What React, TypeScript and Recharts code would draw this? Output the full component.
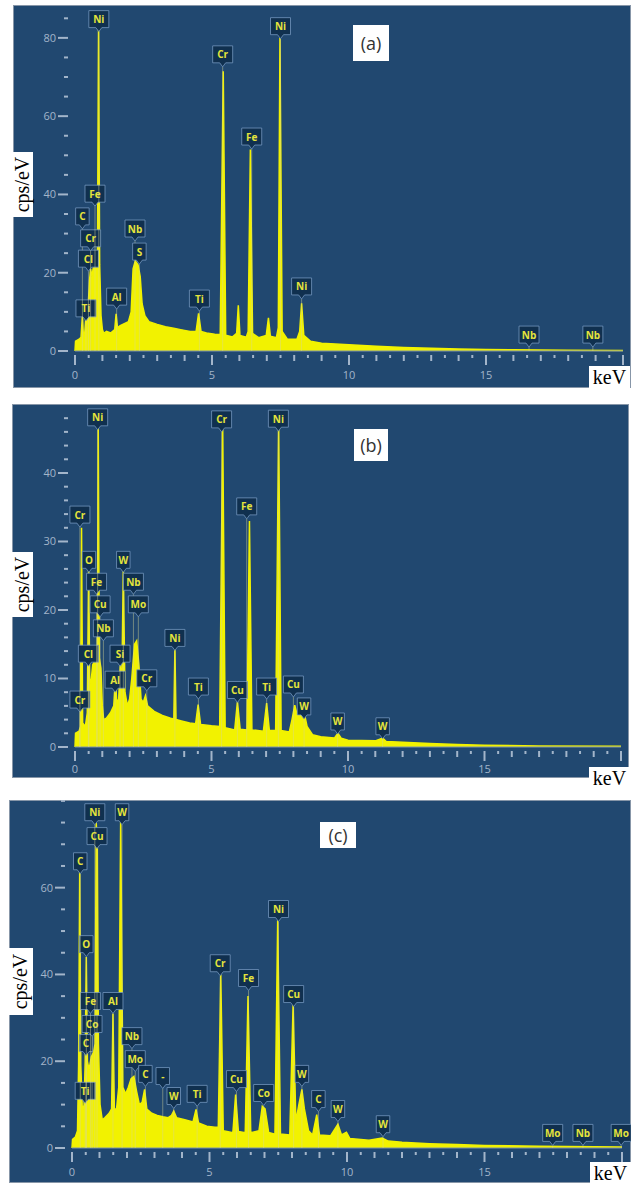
import React from 'react';
import { ComposedChart, Area, Scatter, XAxis, YAxis } from 'recharts';

type Pt = [number, number];
type Mark = [string, number, number]; // element, keV, cps at the pointer tip

// spectrum (a): [keV, cps/eV]
const spectrumA: Pt[] = [
  [0, 0], [0.02, 2.5], [0.15, 3], [0.22, 3.5], [0.27, 9], [0.31, 3.5], [0.36, 5], [0.4, 9],
  [0.44, 6], [0.5, 14], [0.53, 18], [0.57, 21], [0.62, 19], [0.66, 21], [0.7, 22], [0.76, 21],
  [0.82, 24], [0.86, 84], [0.9, 22], [0.95, 9], [1.0, 5.5], [1.05, 4.5], [1.15, 5], [1.3, 4.6],
  [1.45, 5.5], [1.5, 9.5], [1.55, 6], [1.65, 6.5], [1.8, 7], [1.95, 7.5], [2.05, 10], [2.12, 21],
  [2.2, 23], [2.3, 22], [2.38, 19], [2.45, 12], [2.55, 9], [2.7, 7.5], [3.0, 6.8], [3.3, 6.2],
  [3.6, 5.8], [3.9, 5.4], [4.2, 5], [4.42, 5], [4.51, 9.6], [4.6, 5], [4.8, 4.6], [5.1, 4.3],
  [5.3, 4.2], [5.41, 71.5], [5.5, 4], [5.75, 3.6], [5.9, 4.5], [5.96, 11.7], [6.02, 4], [6.25, 3.5],
  [6.32, 5], [6.4, 51.5], [6.48, 4.5], [6.7, 3.4], [6.98, 4], [7.06, 8.5], [7.13, 3.8], [7.35, 3.4],
  [7.42, 6], [7.48, 80], [7.56, 5], [7.75, 3], [8.1, 3], [8.2, 5], [8.27, 12.2], [8.35, 4],
  [8.6, 2.5], [9.0, 2], [10, 1.6], [11, 1.2], [12, 0.9], [13, 0.7], [14, 0.5], [15, 0.4],
  [16, 0.3], [18, 0.2], [20, 0.15],
];

const markersA: Mark[] = [
  ['Ti', 0.4, 7.7], ['C', 0.27, 31.2], ['Cl', 0.49, 20.4], ['Cr', 0.57, 25.6], ['Fe', 0.73, 37],
  ['Ni', 0.87, 81.6], ['Al', 1.52, 10.7], ['Nb', 2.19, 28.1], ['S', 2.35, 22.2], ['Ti', 4.54, 10.2],
  ['Cr', 5.39, 72.6], ['Fe', 6.45, 51.6], ['Ni', 7.5, 79.8], ['Ni', 8.27, 13.3], ['Nb', 16.57, 1.0],
  ['Nb', 18.9, 1.0],
];

// spectrum (b)
const spectrumB: Pt[] = [
  [0, 0], [0.02, 2], [0.15, 2.3], [0.2, 3], [0.24, 32], [0.28, 3.5], [0.38, 3], [0.45, 5],
  [0.5, 26], [0.54, 9], [0.6, 10], [0.65, 12], [0.72, 12.5], [0.78, 13], [0.82, 14], [0.85, 47.5],
  [0.89, 13], [0.95, 11.5], [1.0, 6], [1.05, 4], [1.15, 4.2], [1.3, 5], [1.42, 6], [1.48, 10],
  [1.53, 6.5], [1.6, 7], [1.66, 12], [1.71, 8], [1.77, 26], [1.83, 8], [1.92, 6], [2.0, 7],
  [2.08, 10], [2.18, 15], [2.26, 15.5], [2.34, 12], [2.42, 7], [2.5, 6.5], [2.58, 7.5], [2.66, 6],
  [2.9, 5.2], [3.2, 4.6], [3.5, 4.2], [3.62, 4.1], [3.66, 14.5], [3.7, 4], [3.9, 3.8], [4.2, 3.5],
  [4.42, 3.4], [4.51, 6.2], [4.6, 3.3], [5.0, 3.1], [5.3, 3.0], [5.41, 47], [5.5, 2.8], [5.85, 2.5],
  [5.95, 6.6], [6.05, 2.6], [6.3, 2.5], [6.39, 33], [6.48, 2.5], [6.9, 2.3], [7.02, 6.4], [7.12, 2.4],
  [7.35, 2.4], [7.46, 47.5], [7.55, 2.4], [7.85, 2.2], [7.95, 4], [8.05, 6.1], [8.15, 4.5], [8.28, 5.5],
  [8.38, 5.3], [8.5, 3], [8.7, 1.8], [9.0, 1.5], [9.5, 1.3], [9.63, 2], [9.75, 1.3], [10, 1],
  [11, 0.9], [11.27, 1.3], [11.4, 0.8], [12, 0.7], [13, 0.5], [14, 0.35], [15, 0.25], [17, 0.15],
  [20, 0.1],
];

const markersB: Mark[] = [
  ['Cr', 0.18, 5.1], ['Cr', 0.18, 32.1], ['O', 0.51, 25.5], ['Cl', 0.49, 11.8], ['Fe', 0.79, 22.3],
  ['Cu', 0.92, 19], ['Nb', 1.04, 15.5], ['Ni', 0.83, 46.3], ['Al', 1.47, 8], ['Si', 1.65, 11.8],
  ['W', 1.77, 25.5], ['Nb', 2.14, 22.3], ['Mo', 2.32, 19], ['Cr', 2.63, 8.2], ['Ni', 3.66, 14.1],
  ['Ti', 4.52, 7], ['Cr', 5.37, 46], ['Cu', 5.95, 6.5], ['Fe', 6.29, 33.3], ['Ti', 7.02, 7],
  ['Ni', 7.45, 46.1], ['Cu', 8.0, 7.3], ['W', 8.39, 4.1], ['W', 9.62, 1.9], ['W', 11.27, 1.2],
];

// spectrum (c)
const spectrumC: Pt[] = [
  [0, 0], [0.02, 2], [0.12, 2.5], [0.2, 4], [0.24, 19], [0.28, 64], [0.32, 19], [0.38, 8],
  [0.44, 10], [0.48, 20], [0.52, 44], [0.56, 20], [0.62, 18], [0.7, 21], [0.78, 22], [0.84, 24],
  [0.88, 75], [0.92, 70], [0.96, 24], [1.02, 10], [1.1, 6.5], [1.2, 7], [1.35, 8], [1.44, 9],
  [1.49, 31], [1.54, 9], [1.62, 9], [1.7, 14], [1.77, 76], [1.85, 14], [1.95, 12.5], [2.05, 14],
  [2.15, 16], [2.25, 16.5], [2.35, 13], [2.45, 10], [2.55, 10.5], [2.64, 13.5], [2.72, 9], [2.9, 8],
  [3.1, 7.5], [3.3, 7.2], [3.5, 7], [3.62, 7.5], [3.7, 8.5], [3.8, 7], [4.1, 6.5], [4.4, 6],
  [4.51, 8.9], [4.6, 5.8], [4.9, 5], [5.2, 4.8], [5.32, 4.8], [5.41, 40], [5.5, 4], [5.85, 3.5],
  [5.95, 12.3], [6.05, 3.8], [6.3, 3.5], [6.4, 35], [6.5, 3.5], [6.8, 4], [6.92, 9.6], [7.02, 9],
  [7.15, 3.6], [7.38, 3.2], [7.48, 52.5], [7.58, 3.2], [7.92, 3], [8.04, 33], [8.14, 6], [8.25, 10],
  [8.36, 13.5], [8.45, 9], [8.6, 4], [8.75, 3], [8.9, 7.7], [9.0, 3], [9.4, 2.8], [9.67, 5.5],
  [9.8, 3], [9.98, 3.6], [10.1, 2.2], [10.8, 1.8], [11.28, 2.3], [11.5, 1.6], [12, 1.3], [13, 1],
  [14, 0.8], [15, 0.6], [17, 0.4], [20, 0.25],
];

const markersC: Mark[] = [
  ['Ti', 0.48, 10.3], ['C', 0.51, 21.3], ['Co', 0.73, 25.7], ['Fe', 0.67, 31], ['O', 0.52, 44.1],
  ['C', 0.3, 63.2], ['Cu', 0.91, 69], ['Ni', 0.83, 74.5], ['W', 1.82, 74.5], ['Al', 1.49, 31],
  ['Nb', 2.18, 22.9], ['Mo', 2.3, 17.6], ['C', 2.67, 14.2], ['-', 3.3, 13.7], ['W', 3.7, 9.1],
  ['Ti', 4.55, 9.6], ['Cr', 5.39, 39.7], ['Cu', 5.98, 13], ['Fe', 6.42, 36.3], ['Co', 6.97, 9.8],
  ['Ni', 7.51, 52.2], ['Cu', 8.06, 32.6], ['W', 8.36, 14.2], ['C', 8.96, 8.4], ['W', 9.67, 6.1],
  ['W', 11.31, 2.6], ['Mo', 17.48, 0.6], ['Nb', 18.58, 0.6], ['Mo', 19.97, 0.6],
];

const xTicks = [
  0, 0.5, 1, 1.5, 2, 2.5, 3, 3.5, 4, 4.5, 5, 5.5, 6, 6.5, 7, 7.5, 8, 8.5, 9, 9.5, 10,
  10.5, 11, 11.5, 12, 12.5, 13, 13.5, 14, 14.5, 15, 15.5, 16, 16.5, 17, 17.5, 18, 18.5, 19, 19.5, 20,
];
const xTickLabels = [0, 5, 10, 15];

const yTicksA = [0, 5, 10, 15, 20, 25, 30, 35, 40, 45, 50, 55, 60, 65, 70, 75, 80, 85];
const yLabelsA = [0, 20, 40, 60, 80];
const yTicksB = [0, 2, 4, 6, 8, 10, 12, 14, 16, 18, 20, 22, 24, 26, 28, 30, 32, 34, 36, 38, 40, 42, 44, 46, 48];
const yLabelsB = [0, 10, 20, 30, 40];
const yTicksC = [0, 5, 10, 15, 20, 25, 30, 35, 40, 45, 50, 55, 60, 65, 70, 75, 80];
const yLabelsC = [0, 20, 40, 60];

const BG = '#214870';
const YELLOW = '#f2f200';
const TICK = '#a3b5ca';
const SANS = '"Open Sans", "Noto Sans", sans-serif';
const SERIF = '"Liberation Serif", "DejaVu Serif", serif';

interface PanelProps {
  left: number;
  top: number;
  width: number;
  height: number;
  plotLeft: number;
  plotRight: number;
  plotBottom: number;
  labelOffset: number;
  yMax: number;
  spectrum: Pt[];
  markers: Mark[];
  yTicks: number[];
  yLabels: number[];
}

const Panel: React.FC<PanelProps> = (p) => {
  const data = p.spectrum.map(([x, y]) => ({ x, y }));
  const marks = p.markers.map(([el, x, y]) => ({ el, x, y }));

  const renderXTick = (props: any) => {
    const { x, y, payload } = props;
    const v = payload.value as number;
    const len = v % 5 === 0 ? 10 : Number.isInteger(v) ? 6 : 3;
    return (
      <g>
        <line x1={x} x2={x} y1={y + 4} y2={y + 4 + len} stroke={TICK} strokeWidth={2} />
        {xTickLabels.includes(v) && (
          <text x={x} y={y + p.labelOffset} textAnchor="middle" fontSize={11} fontFamily={SANS} fill={TICK}>
            {v}
          </text>
        )}
      </g>
    );
  };

  const renderYTick = (props: any) => {
    const { x, y, payload } = props;
    const v = payload.value as number;
    const major = p.yLabels.includes(v);
    return (
      <g>
        <line x1={x - (major ? 17 : 11)} x2={x - 7} y1={y} y2={y} stroke={TICK} strokeWidth={2} />
        {major && (
          <text x={x - 19} y={y + 4} textAnchor="end" fontSize={11} fontFamily={SANS} fill={TICK}>
            {v}
          </text>
        )}
      </g>
    );
  };

  const renderMark = (props: any) => {
    const { cx, cy, payload } = props;
    const el = payload.el as string;
    const w = Math.max(13, el.length * 6.5 + 7);
    const h = 17;
    const by = cy - 4 - h;
    return (
      <g>
        <line x1={cx} x2={cx} y1={cy} y2={p.plotBottom} stroke="rgba(215,215,150,0.45)" strokeWidth={1} />
        <path
          d={`M${cx - w / 2},${by} h${w} v${h} h${-(w / 2 - 3)} l-3,4 l-3,-4 h${-(w / 2 - 3)} z`}
          fill="#10304f"
          stroke="rgba(120,155,195,0.75)"
          strokeWidth={1}
        />
        <text x={cx} y={by + 12.5} textAnchor="middle" fontSize={10} fontWeight={700} fontFamily={SANS} fill="#e4e43c">
          {el}
        </text>
      </g>
    );
  };

  return (
    <div
      style={{
        position: 'absolute',
        left: p.left,
        top: p.top,
        width: p.width,
        height: p.height,
        background: BG,
        outline: '1px solid #8796a8',
        outlineOffset: -1,
      }}
    >
      <ComposedChart
        width={p.width}
        height={p.height}
        margin={{ top: 0, right: p.width - p.plotRight, bottom: 0, left: 0 }}
      >
        <XAxis
          type="number"
          dataKey="x"
          domain={[0, 20]}
          ticks={xTicks}
          interval={0}
          height={p.height - p.plotBottom}
          tickSize={0}
          tickMargin={0}
          tickLine={false}
          axisLine={{ stroke: '#7d92aa' }}
          tick={renderXTick}
        />
        <YAxis
          type="number"
          dataKey="y"
          domain={[0, p.yMax]}
          ticks={p.yTicks}
          interval={0}
          width={p.plotLeft}
          tickSize={0}
          tickMargin={0}
          tickLine={false}
          axisLine={false}
          tick={renderYTick}
        />
        <Area
          data={data}
          dataKey="y"
          type="linear"
          stroke={YELLOW}
          strokeWidth={1.5}
          fill={YELLOW}
          fillOpacity={1}
          isAnimationActive={false}
        />
        <Scatter data={marks} dataKey="y" shape={renderMark} isAnimationActive={false} />
      </ComposedChart>
    </div>
  );
};

const WhiteBox: React.FC<{ left: number; top: number; width: number; height: number; children: React.ReactNode }> = ({
  left, top, width, height, children,
}) => (
  <div
    style={{
      position: 'absolute',
      left,
      top,
      width,
      height,
      background: '#fff',
      display: 'flex',
      alignItems: 'center',
      justifyContent: 'center',
    }}
  >
    {children}
  </div>
);

const UnitY: React.FC<{ left: number; top: number; width: number; height: number }> = (b) => (
  <WhiteBox {...b}>
    <span style={{ transform: 'rotate(-90deg)', whiteSpace: 'nowrap', fontFamily: SERIF, fontSize: 20, color: '#000' }}>
      cps/eV
    </span>
  </WhiteBox>
);

const UnitX: React.FC<{ left: number; top: number }> = ({ left, top }) => (
  <WhiteBox left={left} top={top} width={41} height={22}>
    <span style={{ fontFamily: SERIF, fontSize: 20, color: '#000', lineHeight: '22px' }}>keV</span>
  </WhiteBox>
);

const Tag: React.FC<{ left: number; top: number; width: number; height: number; text: string }> = ({ text, ...b }) => (
  <WhiteBox {...b}>
    <span style={{ fontFamily: SANS, fontSize: 18, color: '#333' }}>{text}</span>
  </WhiteBox>
);

const App: React.FC = () => {
  return (
    <div style={{ position: 'absolute', left: 0, top: 0, width: 636, height: 1185, background: '#fff', overflow: 'hidden' }}>
      <Panel
        left={13} top={5} width={618} height={383}
        plotLeft={62} plotRight={610} plotBottom={346} labelOffset={28}
        yMax={88.4} spectrum={spectrumA} markers={markersA}
        yTicks={yTicksA} yLabels={yLabelsA}
      />
      <Panel
        left={12} top={404} width={617} height={374}
        plotLeft={63} plotRight={609} plotBottom={343} labelOffset={26}
        yMax={50.07} spectrum={spectrumB} markers={markersB}
        yTicks={yTicksB} yLabels={yLabelsB}
      />
      <Panel
        left={9} top={800} width={622} height={383}
        plotLeft={63} plotRight={613} plotBottom={348} labelOffset={28}
        yMax={80.2} spectrum={spectrumC} markers={markersC}
        yTicks={yTicksC} yLabels={yLabelsC}
      />

      <Tag left={353} top={25} width={36} height={36} text="(a)" />
      <Tag left={354} top={429} width={34} height={32} text="(b)" />
      <Tag left={320} top={822} width={36} height={26} text="(c)" />

      <UnitY left={13} top={152} width={20} height={65} />
      <UnitY left={12} top={552} width={21} height={65} />
      <UnitY left={9} top={948} width={24} height={67} />

      <UnitX left={589} top={366} />
      <UnitX left={589} top={767} />
      <UnitX left={590} top={1162} />
    </div>
  );
};

export default App;
